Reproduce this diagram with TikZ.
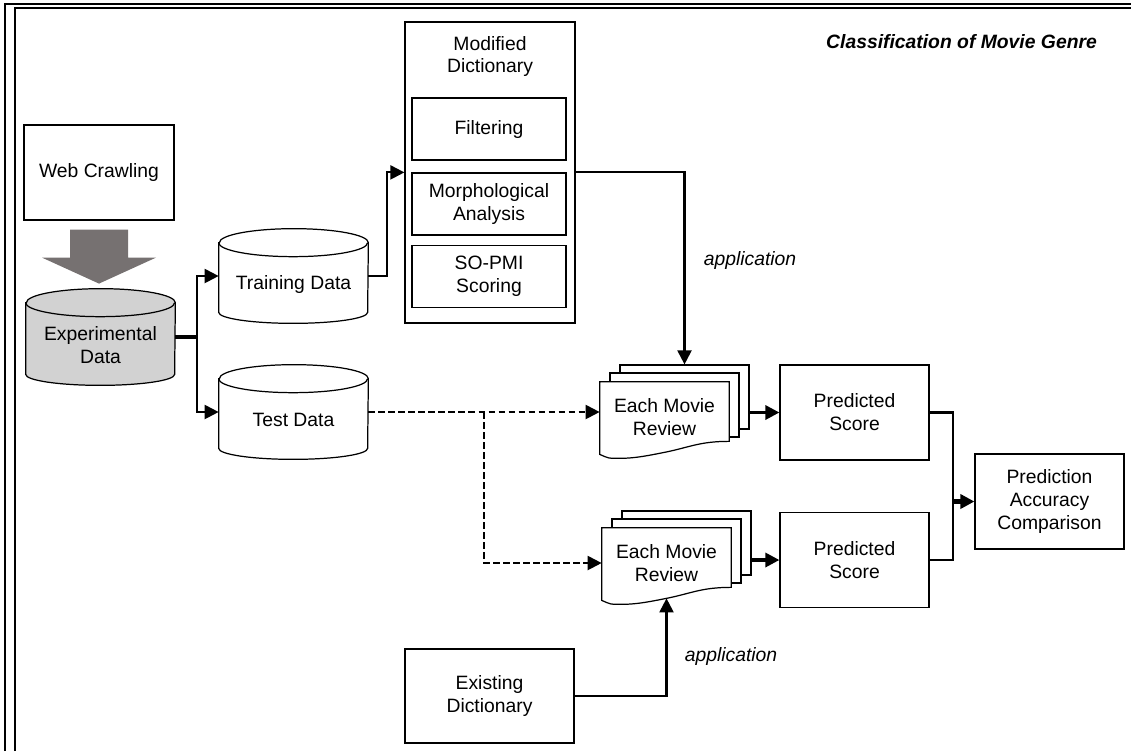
\documentclass[tikz,border=0pt]{standalone}
\usepackage{fontspec}
\setmainfont{Liberation Sans}
\usetikzlibrary{arrows.meta,calc}
\pgfdeclarelayer{bg}
\pgfsetlayers{bg,main}
\definecolor{arrowgray}{RGB}{118,113,113}
\definecolor{dbgray}{RGB}{210,210,210}
\tikzset{
    every node/.style={font=\fontsize{11}{13}\selectfont, align=center, inner sep=0pt},
    box/.style={draw, line width=0.7pt, minimum width=2.98cm, minimum height=1.9cm},
    inbox/.style={box, minimum width=3.08cm, minimum height=1.24cm},
    db/.style={minimum width=2.98cm, minimum height=1.88cm},
    dbtext/.style={yshift=-0.16cm},
    rim/.style={line width=0.7pt},
    page/.style={draw, line width=0.7pt, fill=white, minimum width=2.58cm, minimum height=1.28cm},
    frame/.style={line width=0.6pt},
    conn/.style={line width=1.2pt, -{Triangle[length=8pt,width=8pt]}},
    thickconn/.style={conn, line width=1.8pt},
    dashconn/.style={conn, dash pattern=on 3.8pt off 1.9pt},
    app/.style={font=\fontsize{11}{13}\selectfont\itshape}
}

\begin{document}
\begin{tikzpicture}[x=0.02cm, y=-0.02cm]
  \useasboundingbox (0,0) rectangle (1131,751);
  \draw[frame] (5,751) -- (5,4) -- (1131,4);
  \draw[frame] (15,751) -- (15,8) -- (1131,8);

  \node (title) at (961.5,42) {\bfseries\itshape Classification of Movie Genre};

  \node (web) [box, minimum width=3cm] at (99,172.5) {Web Crawling};
  \node (exp) [db, minimum height=1.92cm,
      label={[dbtext]center:Experimental\\Data}] at (100.5,337) {};
  \node (train) [db, label={[dbtext]center:Training Data}] at (293.5,276) {};
  \node (test) [db, label={[dbtext]center:Test Data}] at (293.5,412) {};

  \node (moddict) [box, minimum width=3.4cm, minimum height=6.02cm] at (490,172.5) {};
  \node (modname) at (490,56.5) {Modified\\Dictionary};
  \node (filter) [inbox] at (489,129) {Filtering};
  \node (morph) [inbox] at (489,204) {Morphological\\Analysis};
  \node (sopmi) [inbox] at (489,276.5) {SO-PMI\\Scoring};

  \node (rev1) [minimum width=2.58cm, minimum height=1.4cm] at (664.5,417) {Each Movie\\Review};
  \node (rev2) [minimum width=2.58cm, minimum height=1.4cm] at (666.5,563) {Each Movie\\Review};
  \begin{pgfonlayer}{bg}
    % cylinders
    \foreach \db/\col in {exp/dbgray, train/white, test/white} {
      \draw[rim, fill=\col] ($(\db.north west)+(0,14)$) -- ($(\db.south west)+(0,-11)$)
        arc[start angle=180, end angle=360, x radius=1.49cm, y radius=0.22cm]
        -- ($(\db.north east)+(0,14)$)
        arc[start angle=0, end angle=180, x radius=1.49cm, y radius=0.28cm] -- cycle;
      \draw[rim] ($(\db.north west)+(0,14)$)
        arc[start angle=180, end angle=360, x radius=1.49cm, y radius=0.28cm];
    }
    % stacked pages
    \foreach \rv in {rev1,rev2} {
      \node (\rv-c) [page] at ($(\rv)+(20,-20)$) {};
      \node (\rv-b) [page] at ($(\rv)+(10,-12)$) {};
      \draw[rim, fill=white] (\rv.north west) -- (\rv.north east)
        -- ($(\rv.south east)+(0,-11)$) .. controls +(-30,0) and +(25,-5) .. (\rv.south)
        .. controls +(-25,5) and +(15,0) .. ($(\rv.south west)+(17,6)$)
        .. controls +(-8,0) .. ($(\rv.south west)+(0,2)$) -- cycle;
    }
  \end{pgfonlayer}

  \node (ps1) [box] at (854.5,412.5) {Predicted\\Score};
  \node (ps2) [box] at (854.5,560) {Predicted\\Score};
  \node (cmp) [box] at (1049.5,501.5) {Prediction\\Accuracy\\Comparison};
  \node (exdict) [box, minimum width=3.38cm, minimum height=1.88cm] at (489.5,696) {Existing\\Dictionary};

  \node (app1) [app] at (750,260) {application};
  \node (app2) [app] at (731,656) {application};

  % gray block arrow
  \fill[arrowgray] ($(web.south)+(-29,9)$) -- ++(58,0) -- ++(0,28) -- ++(28,0)
    -- ++(-57,26) -- ++(-57,-26) -- ++(28,0) -- cycle;

  \coordinate (split) at (197,337);
  \draw[line width=2pt] (exp.east) -- (split);
  \draw[conn] (split) |- (train.west);
  \draw[conn] (split) |- (test.west);
  \draw[conn] (train.east) -- ++(19,0) |- (moddict.west |- morph.north);
  \draw[conn] (moddict.east |- morph.north) -| (rev1-c.north);

  \coordinate (branch) at (484,412);
  \draw[dashconn] (test.east) -- (test.east -| rev1.west);
  \draw[dashconn] (branch) |- (rev2.west);

  \draw[thickconn] (rev1-c.east |- ps1.west) -- (ps1.west);
  \draw[thickconn] (rev2-c.east |- ps2.west) -- (ps2.west);
  \draw[conn] (exdict.east) -| (rev2.south);

  \coordinate (merge) at (953,501.5);
  \draw[line width=1.6pt] (ps1.east) -| (merge);
  \draw[line width=1.6pt] (ps2.east) -| (merge);
  \draw[conn, line width=2.4pt] (merge) -- (cmp.west);
\end{tikzpicture}
\end{document}
